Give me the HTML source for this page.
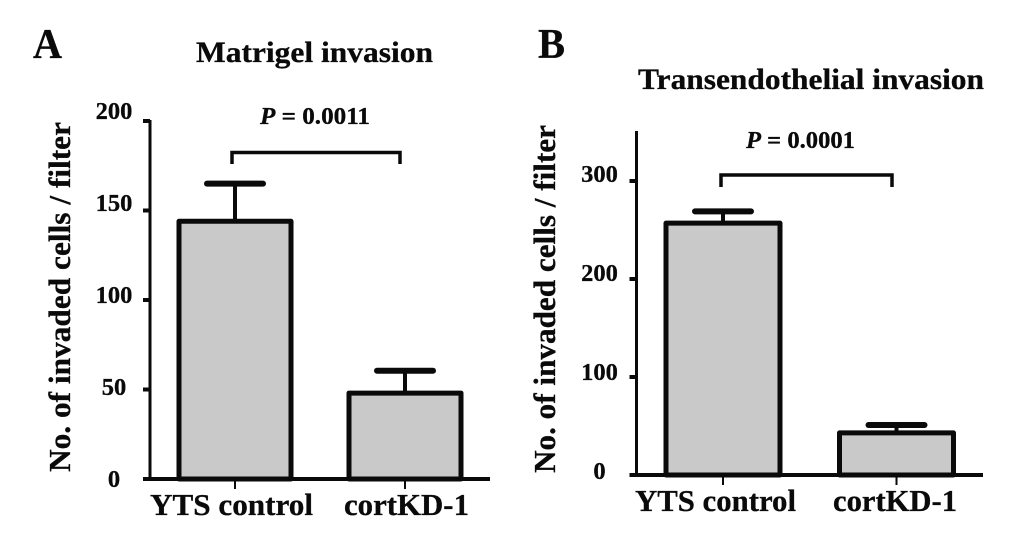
<!DOCTYPE html>
<html>
<head>
<meta charset="utf-8">
<title>Matrigel and transendothelial invasion</title>
<style>
html,body{margin:0;padding:0;background:#fff;width:1033px;height:541px;overflow:hidden}
svg{display:block;filter:blur(.35px)}
text{font-family:"Liberation Serif",serif;font-weight:bold;fill:#0a0a0a;stroke:#0a0a0a;stroke-width:.3px}
</style>
</head>
<body>
<svg id="figure" width="1033" height="541" viewBox="0 0 1033 541" xmlns="http://www.w3.org/2000/svg">
  <rect width="1033" height="541" fill="#fff"/>
  <text x="33" y="58" font-size="42" textLength="29" lengthAdjust="spacingAndGlyphs">A</text>
  <text x="538" y="58" font-size="42" textLength="27" lengthAdjust="spacingAndGlyphs">B</text>
  <text x="196" y="62" font-size="30" textLength="237" lengthAdjust="spacingAndGlyphs">Matrigel invasion</text>
  <text x="638" y="89" font-size="30" textLength="346" lengthAdjust="spacingAndGlyphs">Transendothelial invasion</text>
  <text x="260" y="124" font-size="24.5" textLength="110" lengthAdjust="spacingAndGlyphs"><tspan font-style="italic">P</tspan> = 0.0011</text>
  <text x="746" y="148" font-size="24.5" textLength="109" lengthAdjust="spacingAndGlyphs"><tspan font-style="italic">P</tspan> = 0.0001</text>
  <text transform="translate(70 472) rotate(-90)" font-size="31" textLength="350" lengthAdjust="spacingAndGlyphs">No. of invaded cells / filter</text>
  <text transform="translate(555 473) rotate(-90)" font-size="31" textLength="348" lengthAdjust="spacingAndGlyphs">No. of invaded cells / filter</text>
  <g id="panel-a"></g>
  <g id="panel-b"></g>
</svg>
<script>
// Panel A data
const aCategories = ['YTS control', 'cortKD-1'];
const aMeans = [144, 48];
const aErrorTops = [165, 60.5];
const aTickValues = [0, 50, 100, 150, 200];
const aTickLabels = ['0', '50', '100', '150', '200'];

// Panel B data
const bCategories = ['YTS control', 'cortKD-1'];
const bMeans = [257, 43];
const bErrorTops = [269, 51];
const bTickValues = [0, 100, 200, 300];
const bTickLabels = ['0', '100', '200', '300'];

const SVG_NS = 'http://www.w3.org/2000/svg';

function make(parent, tag, attrs, content) {
  const el = document.createElementNS(SVG_NS, tag);
  for (const k in attrs) el.setAttribute(k, attrs[k]);
  if (content !== undefined) el.textContent = content;
  parent.appendChild(el);
  return el;
}

function drawPanel(group, categories, means, errorTops, tickValues, tickLabels, layout) {
  const y = v => layout.y0 - v * layout.pxPerUnit;
  const labelY = v => layout.labelBase - v * layout.labelPerUnit;
  const line = {stroke: '#0a0a0a', fill: 'none'};

  categories.forEach((cat, i) => {
    const cx = layout.centers[i];

    const cap = make(group, 'line', {...line, x1: cx - layout.capHalf, x2: cx + layout.capHalf, y1: y(errorTops[i]), y2: y(errorTops[i]), 'stroke-width': 6, 'stroke-linecap': 'round'});
    
    

    const err = make(group, 'line', {...line, x1: cx, x2: cx, y1: y(errorTops[i]), y2: y(means[i]), 'stroke-width': 4});
    
    

    const bar = make(group, 'rect', {x: cx - layout.barHalf, y: y(means[i]), width: layout.barHalf * 2, height: layout.y0 - y(means[i]), fill: '#c9c9c9', stroke: '#0a0a0a', 'stroke-width': 5, 'stroke-linejoin': 'round'});
    
    

    const tick = make(group, 'line', {...line, x1: cx, x2: cx, y1: layout.y0, y2: layout.y0 + 10, 'stroke-width': 2});
    
    

    const label = make(group, 'text', {x: layout.catX[i], y: layout.catBaseline, 'font-size': 31, textLength: layout.catW[i], lengthAdjust: 'spacingAndGlyphs'}, cat);
    
    
  });

  const yAxis = make(group, 'line', {...line, x1: layout.axisX, x2: layout.axisX, y1: layout.axisTop, y2: layout.y0, 'stroke-width': 3});
  
  

  const xAxis = make(group, 'line', {...line, x1: layout.axisX - 7, x2: layout.axisRight, y1: layout.y0, y2: layout.y0, 'stroke-width': 4});
  
  

  tickValues.forEach((v, i) => {
    const t = make(group, 'line', {...line, x1: layout.axisX - 7, x2: layout.axisX, y1: y(v), y2: y(v), 'stroke-width': 4});
    
    

    const lab = make(group, 'text', {x: layout.tickLabelX, y: labelY(v), 'font-size': 24.5, 'text-anchor': 'middle'}, tickLabels[i]);
    
    
  });

  const b = layout.bracket;
  const br = make(group, 'polyline', {...line, points: `${b.x1},${b.bottom} ${b.x1},${b.top} ${b.x2},${b.top} ${b.x2},${b.bottom}`, 'stroke-width': 3.5});
  
  
}

drawPanel(document.getElementById('panel-a'), aCategories, aMeans, aErrorTops, aTickValues, aTickLabels, {
  y0: 479, pxPerUnit: 1.79, axisX: 150, axisTop: 120, axisRight: 490,
  labelBase: 487, labelPerUnit: 1.84, tickLabelX: 114,
  centers: [235, 405], barHalf: 56, capHalf: 28,
  catX: [150, 344], catW: [163, 125], catBaseline: 515,
  bracket: {x1: 232, x2: 400, top: 152.5, bottom: 164}
});

drawPanel(document.getElementById('panel-b'), bCategories, bMeans, bErrorTops, bTickValues, bTickLabels, {
  y0: 475, pxPerUnit: 0.98, axisX: 636.5, axisTop: 131, axisRight: 983,
  labelBase: 479, labelPerUnit: 0.99, tickLabelX: 599.5,
  centers: [723, 896.5], barHalf: 57, capHalf: 28,
  catX: [635, 833], catW: [161, 124], catBaseline: 511,
  bracket: {x1: 721, x2: 892, top: 175, bottom: 187}
});
</script>
</body>
</html>
